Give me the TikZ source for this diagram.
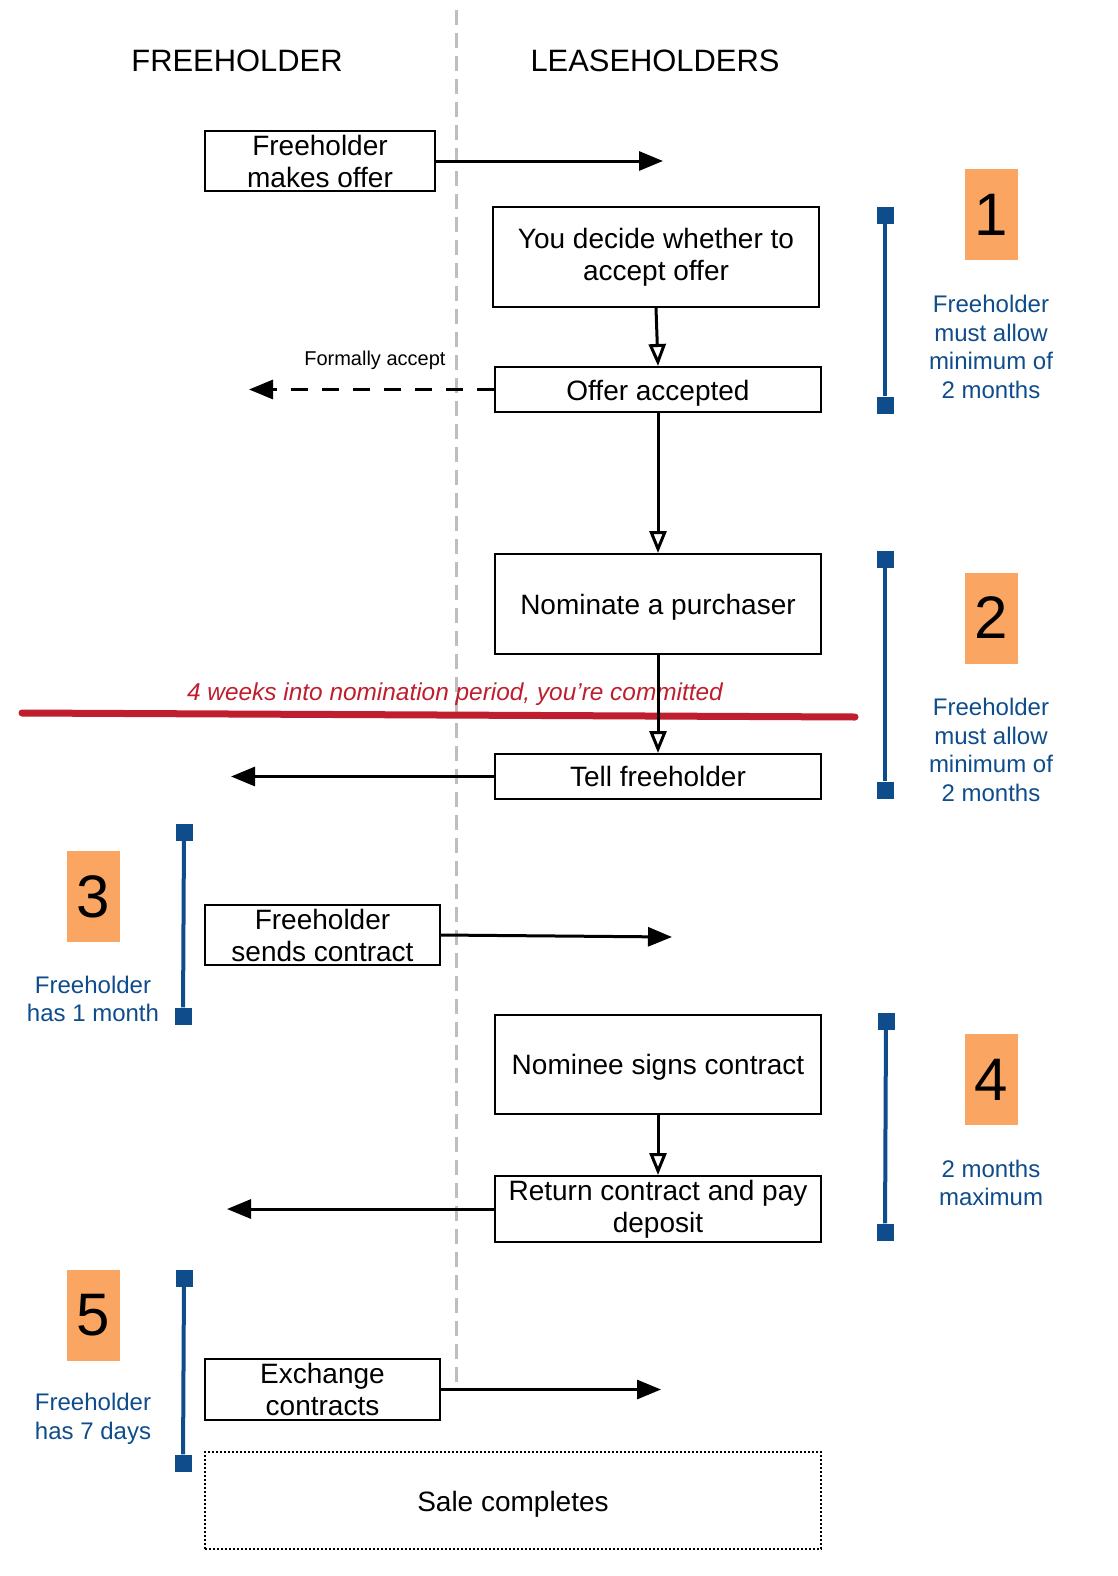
\documentclass[tikz,border=0pt]{standalone}
\usepackage{fontspec}
\setmainfont{Liberation Sans}
\usetikzlibrary{arrows.meta}
\definecolor{blueC}{RGB}{14,76,140}
\definecolor{orangeC}{RGB}{251,165,98}
\definecolor{redC}{RGB}{190,30,45}
\definecolor{grayC}{RGB}{190,190,190}
\tikzset{
  box/.style={draw=black, line width=2, inner sep=0, minimum width=#1, align=center,
    font=\fontsize{28}{32}\selectfont},
  lower/.style={execute at begin node={\rule{0pt}{#1}}},
  flow/.style={line width=3, -{Triangle[open,length=22,width=17,fill=white]}},
  msg/.style={line width=3, -{Triangle[length=24,width=19]}},
  title/.style={font=\fontsize{30.9}{36}\selectfont, anchor=base},
  numbox/.style={fill=orangeC, minimum width=53, minimum height=91, inner sep=0,
    font=\fontsize{60}{60}\selectfont},
  note/.style={text=blueC, align=center, font=\fontsize{24}{28.8}\selectfont},
  bracket/.style={draw=blueC, line width=4},
  endsq/.style={fill=blueC, minimum size=17, inner sep=0},
}
\begin{document}
\begin{tikzpicture}[x=1pt,y=-1pt]
\useasboundingbox (0,0) rectangle (1118,1576);
% lane divider
\coordinate (divtop) at (456,10);
\coordinate (divbot) at (456,1388);
\draw[grayC, line width=3, dash pattern=on 15 off 8] (divtop) -- (divbot);
% titles
\node[title] (tf) at (237,72) {FREEHOLDER};
\node[title] (tl) at (655,72) {LEASEHOLDERS};
% boxes
\node[box=230, minimum height=60] (b1) at (320,161) {Freeholder\\makes offer};
\node[box=326, minimum height=100, lower=27pt] (b2) at (656,257) {You decide whether to\\accept offer};
\node[box=326, minimum height=45, lower=27pt] (b3) at (658,389.5) {Offer accepted};
\node[box=326, minimum height=100, lower=27pt] (b4) at (658,604) {Nominate a purchaser};
\node[box=326, minimum height=45] (b5) at (658,776.5) {Tell freeholder};
\node[box=235, minimum height=60] (b6) at (322.5,935) {Freeholder\\sends contract};
\node[box=326, minimum height=99, lower=25pt] (b7) at (658,1064.5) {Nominee signs contract};
\node[box=326, minimum height=66, lower=27pt] (b8) at (658,1209) {Return contract and pay\\deposit};
\node[box=235, minimum height=61] (b9) at (322.5,1389.5) {Exchange\\contracts};
\node[box=616, minimum height=97, dotted, line width=2, lower=27pt] (b10) at (513,1500.5) {Sale completes};
% free ends
\coordinate (e1) at (663,161);
\coordinate (e3) at (249,389.5);
\coordinate (e5) at (231,776.5);
\coordinate (e6) at (672,937);
\coordinate (e8) at (227,1209);
\coordinate (e9) at (661,1389.5);
% red commitment line
\coordinate (r1) at (22,713);
\coordinate (r2) at (855,717);
\draw[redC, line width=7, line cap=round] (r1) -- (r2);
\node[text=redC, font=\fontsize{24.4}{28}\itshape] (rt) at (455,694) {4 weeks into nomination period, you’re committed};
% connectors
\draw[msg] (b1.east) -- (e1);
\draw[flow] (b2.south) -- (b3.north);
\draw[msg, dash pattern=on 17 off 14] (b3.west) -- (e3);
\node[anchor=base east, font=\fontsize{20}{24}\selectfont] (fa) at (449,365) {Formally accept};
\draw[flow] (b3.south) -- (b4.north);
\draw[flow] (b4.south) -- (b5.north);
\draw[msg] (b5.west) -- (e5);
\draw[msg] (b6.east) -- (e6);
\draw[flow] (b7.south) -- (b8.north);
\draw[msg] (b8.west) -- (e8);
\draw[msg] (b9.east) -- (e9);
% brackets
\node[endsq] (s1a) at (885,215) {};
\node[endsq] (s1b) at (885,405) {};
\draw[bracket] (s1a) -- (s1b);
\node[endsq] (s2a) at (885,559) {};
\node[endsq] (s2b) at (885,790) {};
\draw[bracket] (s2a) -- (s2b);
\node[endsq] (s3a) at (184,832) {};
\node[endsq] (s3b) at (183,1016) {};
\draw[bracket] (s3a) -- (s3b);
\node[endsq] (s4a) at (886,1021) {};
\node[endsq] (s4b) at (885,1232) {};
\draw[bracket] (s4a) -- (s4b);
\node[endsq] (s5a) at (184,1278) {};
\node[endsq] (s5b) at (183,1463) {};
\draw[bracket] (s5a) -- (s5b);
% numbers
\node[numbox] (n1) at (991.5,214.5) {1};
\node[numbox] (n2) at (991.5,618) {2};
\node[numbox] (n3) at (93,896.5) {3};
\node[numbox] (n4) at (991.5,1079.5) {4};
\node[numbox] (n5) at (93,1315.5) {5};
% notes
\node[note] (t1) at (991,347) {Freeholder\\must allow\\minimum of\\2 months};
\node[note] (t2) at (991,750) {Freeholder\\must allow\\minimum of\\2 months};
\node[note] (t3) at (93,999) {Freeholder\\has 1 month};
\node[note] (t4) at (991,1183) {2 months\\maximum};
\node[note] (t5) at (93,1419) {Freeholder\\has 7 days};
\end{tikzpicture}
\end{document}
